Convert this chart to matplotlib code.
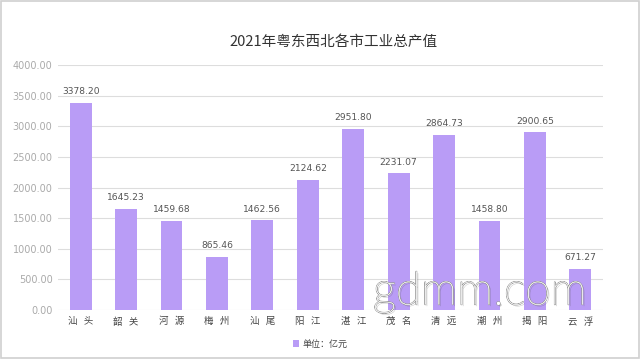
import matplotlib
matplotlib.use("Agg")
import matplotlib.pyplot as plt
import matplotlib.patheffects as pe
from matplotlib.patches import Rectangle

plt.rcParams['font.family'] = ['Noto Sans CJK SC', 'DejaVu Sans']

title = "2021年粤东西北各市工业总产值"
cities = ["汕   头", "韶   关", "河   源", "梅   州", "汕   尾", "阳   江", "湛   江",
          "茂   名", "清   远", "潮   州", "揭   阳", "云   浮"]
values = [3378.20, 1645.23, 1459.68, 865.46, 1462.56, 2124.62, 2951.80,
          2231.07, 2864.73, 1458.80, 2900.65, 671.27]
yticks = [0, 500, 1000, 1500, 2000, 2500, 3000, 3500, 4000]
legend_label = "单位：亿元"

bar_color = "#b99cf6"

fig = plt.figure(figsize=(6.4, 3.59), dpi=100)
ax = fig.add_axes([58/640, 1-310/359, (603-58)/640, (310-65)/359])

x = list(range(len(cities)))
bars = ax.bar(x, values, width=0.48, color=bar_color, label=legend_label, zorder=3)
for xi, v in zip(x, values):
    ax.text(xi, v + 110, f"{v:.2f}", ha="center", va="bottom", fontsize=6.6,
            color="#555555", family=['DejaVu Sans'])

ax.set_xlim(-0.5, len(cities) - 0.5)
ax.set_ylim(0, 4000)
ax.set_yticks(yticks)
ax.set_yticklabels([f"{t:.2f}" for t in yticks], fontsize=7, color="#aaaaaa",
                   family=['DejaVu Sans'])
ax.set_xticks(x)
ax.set_xticklabels(cities, fontsize=6.8, color="#444444")
ax.tick_params(axis="both", length=0)
ax.tick_params(axis="y", pad=4)
ax.tick_params(axis="x", pad=5)
ax.grid(axis="y", color="#dddddd", linewidth=0.8, zorder=0)
for s in ax.spines.values():
    s.set_visible(False)

fig.text(334/640, 1-42/359, title, ha="center", va="center", fontsize=10.5, color="#333333")

leg = fig.legend(handles=[bars], labels=[legend_label], loc="center",
                 bbox_to_anchor=(0.5, 1-344/359), frameon=False, fontsize=6.5,
                 handlelength=0.7, handleheight=0.7, handletextpad=0.4)
for t in leg.get_texts():
    t.set_color("#444444")

# watermark
fig.text(480/640, 1-292/359, "gdmm.com", ha="center", va="center", fontsize=33,
         family=["Lato", "DejaVu Sans"], fontweight="light",
         color="white",
         path_effects=[pe.withSimplePatchShadow(offset=(1.2, -1.2), shadow_rgbFace="#555555", alpha=0.35),
                       pe.withStroke(linewidth=1.0, foreground="#999999"),
                       pe.Normal()], zorder=10)

fig.patches.append(Rectangle((0.002, 0.003), 0.996, 0.994, transform=fig.transFigure,
                             fill=False, edgecolor="#d0d0d0", linewidth=1.2))

fig.savefig("out.png", dpi=100)
